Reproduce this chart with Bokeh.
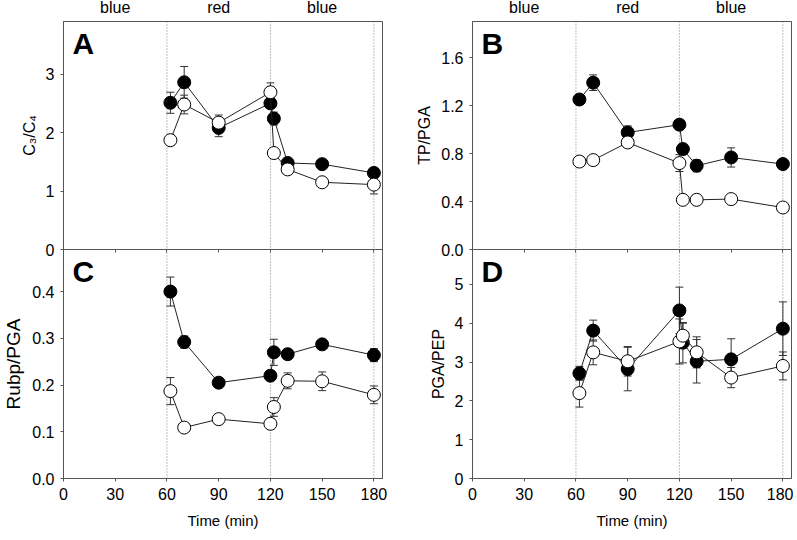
from bokeh.plotting import figure
from bokeh.models import (ColumnDataSource, Range1d, FixedTicker, NumeralTickFormatter,
                          Span, Label, LinearAxis, Whisker, TeeHead)
from bokeh.layouts import row, column
from bokeh.embed import file_html
from bokeh.resources import INLINE

# ---------------- data ----------------
time_min = [62, 70, 90, 120, 122, 130, 150, 180]
x_ticks = [0, 30, 60, 90, 120, 150, 180]
phase_names = ["blue", "red", "blue"]
phase_centers = [30, 90, 150]
phase_bounds = [60, 120, 180]

# Panel A: C3/C4
c3c4_filled = [2.51, 2.86, 2.08, 2.50, 2.24, 1.48, 1.46, 1.31]
c3c4_filled_err = [0.18, 0.27, 0.15, 0.03, 0.11, 0.04, 0.03, 0.03]
c3c4_open = [1.87, 2.48, 2.17, 2.69, 1.65, 1.37, 1.15, 1.11]
c3c4_open_err = [0.04, 0.16, 0.13, 0.16, 0.05, 0.04, 0.03, 0.16]

# Panel B: TP/PGA
tp_filled = [1.25, 1.39, 0.975, 1.04, 0.837, 0.698, 0.767, 0.712]
tp_filled_err = [0.02, 0.065, 0.055, 0.02, 0.04, 0.05, 0.08, 0.02]
tp_open = [0.733, 0.745, 0.892, 0.72, 0.414, 0.414, 0.42, 0.35]
tp_open_err = [0.01, 0.01, 0.02, 0.07, 0.01, 0.01, 0.01, 0.01]

# Panel C: Rubp/PGA
rubp_filled = [0.400, 0.292, 0.205, 0.220, 0.270, 0.266, 0.287, 0.264]
rubp_filled_err = [0.031, 0.013, 0.005, 0.005, 0.028, 0.01, 0.008, 0.014]
rubp_open = [0.187, 0.109, 0.127, 0.117, 0.153, 0.209, 0.208, 0.179]
rubp_open_err = [0.029, 0.005, 0.006, 0.01, 0.02, 0.017, 0.02, 0.019]

# Panel D: PGA/PEP
pep_filled = [2.71, 3.81, 2.82, 4.33, 3.50, 3.02, 3.07, 3.86]
pep_filled_err = [0.18, 0.27, 0.56, 0.6, 0.52, 0.56, 0.53, 0.69]
pep_open = [2.20, 3.25, 3.02, 3.53, 3.68, 3.25, 2.60, 2.90]
pep_open_err = [0.36, 0.32, 0.38, 0.58, 0.32, 0.4, 0.26, 0.36]

FONT = "Liberation Sans"
AXC = "#555555"


def make_panel(letter, ylabel, ylabel_size, yticks, ymax, fmt, dark, dark_err, light, light_err,
               top, bottom, left, right, frame_h, bottom_labels, phases):
    p = figure(output_backend="svg", toolbar_location=None,
               frame_width=319, frame_height=frame_h,
               x_range=Range1d(0, 185), y_range=Range1d(0, ymax),
               min_border_top=top, min_border_bottom=bottom,
               min_border_left=left, min_border_right=right)
    p.xgrid.visible = False
    p.ygrid.visible = False
    p.outline_line_color = AXC
    p.outline_line_width = 1

    for b in phase_bounds:
        p.add_layout(Span(location=b, dimension="height", line_color="#808080",
                          line_dash="1 2", line_width=1, level="underlay"))

    for vals, errs, fill in ((dark, dark_err, "black"), (light, light_err, "white")):
        src = ColumnDataSource(dict(
            x=time_min, y=vals,
            upper=[v + e for v, e in zip(vals, errs)],
            lower=[v - e for v, e in zip(vals, errs)]))
        w = Whisker(source=src, base="x", upper="upper", lower="lower",
                    line_color="#333333", line_width=1, level="underlay",
                    upper_head=TeeHead(size=8, line_color="#333333", line_width=1),
                    lower_head=TeeHead(size=8, line_color="#333333", line_width=1))
        p.add_layout(w)
        p.line("x", "y", source=src, line_color="#222222", line_width=1)
        p.scatter("x", "y", source=src, marker="circle", size=13,
                  fill_color=fill, line_color="black", line_width=1)

    # y axis
    ya = p.yaxis[0]
    ya.ticker = FixedTicker(ticks=yticks)
    if fmt:
        ya.formatter = NumeralTickFormatter(format=fmt)
    ya.major_tick_out = 3
    ya.major_tick_in = 0
    ya.minor_tick_line_color = None
    ya.axis_line_color = AXC
    ya.major_tick_line_color = AXC
    ya.major_label_text_font = FONT
    ya.major_label_text_font_size = "16px"
    ya.major_label_text_color = "black"
    ya.major_label_standoff = 6
    ya.axis_label = ylabel
    ya.axis_label_text_font = FONT
    ya.axis_label_text_font_size = ylabel_size
    ya.axis_label_text_font_style = "normal"
    ya.axis_label_text_color = "black"
    ya.axis_label_standoff = 5

    # x axis
    xa = p.xaxis[0]
    xa.ticker = FixedTicker(ticks=x_ticks)
    xa.major_tick_out = 3
    xa.major_tick_in = 0
    xa.minor_tick_line_color = None
    xa.axis_line_color = AXC
    xa.major_tick_line_color = AXC
    if bottom_labels:
        xa.major_label_text_font = FONT
        xa.major_label_text_font_size = "16px"
        xa.major_label_text_color = "black"
        xa.major_label_standoff = 6
        xa.axis_label = "Time (min)"
        xa.axis_label_text_font = FONT
        xa.axis_label_text_font_size = "15px"
        xa.axis_label_text_font_style = "normal"
        xa.axis_label_text_color = "black"
        xa.axis_label_standoff = 9
    else:
        # ticks only: the labels of this shared edge are not drawn
        xa.major_label_text_font_size = "2px"
        xa.major_label_text_color = None
        xa.major_label_standoff = 0

    p.add_layout(Label(x=0, y=ymax, x_offset=9, y_offset=-5, text=letter,
                       text_baseline="top", text_align="left",
                       text_font=FONT, text_font_size="30px",
                       text_font_style="bold", text_color="black"))

    if phases:
        top_axis = LinearAxis(
            ticker=FixedTicker(ticks=phase_centers),
            major_label_overrides={c: n for c, n in zip(phase_centers, phase_names)},
            axis_line_color=None, major_tick_line_color=None, minor_tick_line_color=None,
            major_label_standoff=0, major_label_text_font=FONT,
            major_label_text_font_size="16px", major_label_text_color="black")
        p.add_layout(top_axis, "above")
    return p


pA = make_panel("A", "C₃/C₄", "16px", [0, 1, 2, 3], 3.9, None,
                c3c4_filled, c3c4_filled_err, c3c4_open, c3c4_open_err,
                top=30, bottom=12, left=58, right=31, frame_h=228,
                bottom_labels=False, phases=True)
pC = make_panel("C", "Rubp/PGA", "19px", [0, 0.1, 0.2, 0.3, 0.4], 0.49, "0.0",
                rubp_filled, rubp_filled_err, rubp_open, rubp_open_err,
                top=0, bottom=54, left=58, right=31, frame_h=229,
                bottom_labels=True, phases=False)
pB = make_panel("B", "TP/PGA", "16px", [0, 0.4, 0.8, 1.2, 1.6], 1.9, "0.0",
                tp_filled, tp_filled_err, tp_open, tp_open_err,
                top=30, bottom=12, left=58, right=3, frame_h=228,
                bottom_labels=False, phases=True)
pD = make_panel("D", "PGA/PEP", "16px", [0, 1, 2, 3, 4, 5], 5.9, None,
                pep_filled, pep_filled_err, pep_open, pep_open_err,
                top=0, bottom=54, left=58, right=3, frame_h=229,
                bottom_labels=True, phases=False)

for q in (pA, pB):
    q.margin = (-9, 0, 0, 0)
for q in (pC, pD):
    q.border_fill_color = None
    q.background_fill_color = None
    q.margin = (-12, 0, 0, 0)

layout = row(column(pA, pC), column(pB, pD))

open("out.html", "w").write(file_html(layout, INLINE))
